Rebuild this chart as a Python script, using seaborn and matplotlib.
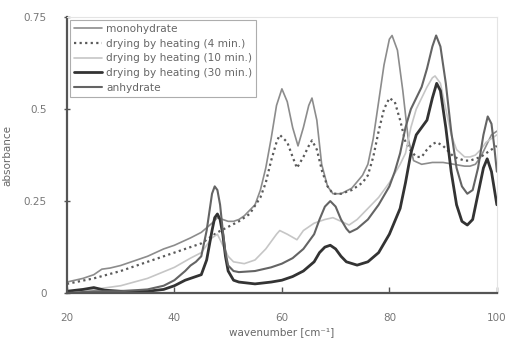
import matplotlib
matplotlib.use("Agg")
import matplotlib.pyplot as plt
import seaborn as sns
import pandas as pd

# ---- data ----
mono_x = [20, 23, 25, 26.5, 28, 30, 33, 35, 38, 40, 43, 45, 47, 48, 49, 50, 51, 52, 53, 54, 55, 56, 57, 58, 59, 60,
          61, 62, 63, 64, 65, 65.6, 66.5, 67.4, 68.5, 69.5, 71, 73, 75, 76, 77, 78, 79, 80, 80.5, 81.5, 82.5, 83.5,
          84.5, 86, 88, 90, 92, 94, 95, 96, 97, 98, 99, 100]
mono_y = [0.03, 0.04, 0.05, 0.065, 0.068, 0.075, 0.09, 0.10, 0.12, 0.13, 0.15, 0.165, 0.19, 0.205, 0.20, 0.195, 0.195,
          0.20, 0.21, 0.225, 0.24, 0.28, 0.34, 0.42, 0.51, 0.555, 0.52, 0.45, 0.40, 0.45, 0.51, 0.53, 0.47, 0.35,
          0.29, 0.27, 0.27, 0.285, 0.32, 0.35, 0.42, 0.52, 0.62, 0.69, 0.70, 0.66, 0.55, 0.42, 0.36, 0.35, 0.355,
          0.355, 0.35, 0.345, 0.345, 0.35, 0.37, 0.40, 0.43, 0.44]

dry4_x = [20, 25, 30, 35, 40, 43, 45, 48, 50, 52, 54, 56, 57, 58, 59, 59.6, 61, 62, 62.8, 64, 65, 65.6, 66.5, 67.5,
          68.5, 69.5, 71, 73, 75, 76, 77, 78, 79, 80, 81, 82, 83, 83.8, 85, 86, 87, 88, 88.8, 90, 92, 94, 95, 97,
          98, 100]
dry4_y = [0.025, 0.04, 0.06, 0.085, 0.11, 0.125, 0.135, 0.165, 0.18, 0.195, 0.215, 0.26, 0.30, 0.36, 0.41, 0.43,
          0.41, 0.37, 0.34, 0.37, 0.40, 0.415, 0.39, 0.33, 0.29, 0.27, 0.27, 0.28, 0.30, 0.32, 0.37, 0.44, 0.50,
          0.53, 0.52, 0.47, 0.41, 0.39, 0.37, 0.37, 0.39, 0.405, 0.41, 0.40, 0.37, 0.36, 0.36, 0.37, 0.38, 0.40]

dry10_x = [20, 25, 30, 35, 40, 43, 45, 46, 47, 48, 49, 50, 51, 53, 55, 57, 59, 59.6, 61, 62.8, 64, 66, 68, 69.5,
           71, 72.5, 74, 76, 78, 80, 82, 83, 84, 85, 86, 87, 88, 88.5, 89.5, 90.5, 91.5, 92.5, 94, 95, 96, 97, 98,
           99, 100]
dry10_y = [0.005, 0.01, 0.02, 0.04, 0.07, 0.095, 0.11, 0.13, 0.15, 0.16, 0.13, 0.10, 0.085, 0.08, 0.09, 0.12, 0.16,
           0.17, 0.16, 0.145, 0.17, 0.19, 0.20, 0.205, 0.195, 0.185, 0.20, 0.23, 0.26, 0.30, 0.35, 0.38, 0.45,
           0.50, 0.53, 0.56, 0.585, 0.59, 0.57, 0.50, 0.43, 0.39, 0.37, 0.37, 0.375, 0.39, 0.41, 0.42, 0.43]

dry30_x = [20, 23, 25, 27, 30, 35, 38, 40, 42, 43, 44, 45, 46, 47, 47.5, 48, 48.5, 49, 49.5, 50, 51, 52, 55, 58,
           60, 62, 64, 66, 67, 68, 69, 70, 71, 72, 74, 76, 78, 80, 82, 83, 84, 85, 86, 87, 88, 88.8, 89.5, 90.5,
           91.5, 92.5, 93.5, 94.5, 95.5, 96.5, 97.5, 98.2, 99, 100]
dry30_y = [0.005, 0.01, 0.015, 0.008, 0.005, 0.005, 0.01, 0.02, 0.035, 0.04, 0.045, 0.05, 0.09, 0.17, 0.205, 0.215,
           0.20, 0.16, 0.10, 0.06, 0.035, 0.03, 0.025, 0.03, 0.035, 0.045, 0.06, 0.085, 0.11, 0.125, 0.13, 0.12,
           0.10, 0.085, 0.076, 0.085, 0.11, 0.16, 0.23, 0.30, 0.38, 0.43, 0.45, 0.47, 0.53, 0.57, 0.55, 0.45, 0.33,
           0.24, 0.195, 0.185, 0.20, 0.27, 0.34, 0.365, 0.33, 0.24]

anhy_x = [20, 25, 30, 35, 38, 40, 42, 43, 44, 45, 46, 46.5, 47, 47.5, 48, 48.5, 49, 49.5, 50, 51, 52, 55, 58, 60,
          62, 64, 66, 67, 68, 69, 70, 71, 72, 72.6, 74, 76, 78, 80, 81, 82, 83, 84, 85, 86, 87, 88, 88.7, 89.5,
          90.5, 91.5, 92.5, 93.5, 94.5, 95.5, 96.5, 97.5, 98.3, 99, 99.5, 100]
anhy_y = [0.0, 0.005, 0.005, 0.01, 0.02, 0.035, 0.06, 0.075, 0.085, 0.10, 0.17, 0.22, 0.27, 0.29, 0.28, 0.24, 0.17,
          0.11, 0.075, 0.06, 0.057, 0.06, 0.07, 0.08, 0.095, 0.12, 0.16, 0.20, 0.235, 0.25, 0.235, 0.20, 0.175,
          0.165, 0.175, 0.20, 0.24, 0.29, 0.33, 0.38, 0.45, 0.50, 0.53, 0.56, 0.61, 0.67, 0.70, 0.67, 0.57, 0.44,
          0.34, 0.29, 0.27, 0.28, 0.34, 0.43, 0.48, 0.46, 0.40, 0.33]

labels = ["monohydrate", "drying by heating (4 min.)", "drying by heating (10 min.)",
          "drying by heating (30 min.)", "anhydrate"]
x_ticks = [20, 40, 60, 80, 100]
y_ticks = [0, 0.25, 0.5, 0.75]
y_ticklabels = ["0", "0.25", "0.5", "0.75"]

series = [(mono_x, mono_y), (dry4_x, dry4_y), (dry10_x, dry10_y), (dry30_x, dry30_y), (anhy_x, anhy_y)]
styles = [
    dict(color="#8c8c8c", lw=1.2, ls="-"),
    dict(color="#5a5a5a", lw=1.6, ls=(0, (1, 1.5))),
    dict(color="#c6c6c6", lw=1.2, ls="-"),
    dict(color="#333333", lw=2.0, ls="-"),
    dict(color="#646464", lw=1.5, ls="-"),
]

sns.set_theme(style="white")
plt.rcParams["font.family"] = ["DejaVu Sans"]

fig = plt.figure(figsize=(5.07, 3.42), dpi=100)
ax = fig.add_axes([0.132, 0.143, 0.848, 0.807])

for (xs, ys), lab, st in zip(series, labels, styles):
    df = pd.DataFrame({"x": xs, "y": ys})
    sns.lineplot(data=df, x="x", y="y", ax=ax, color=st["color"], linewidth=st["lw"],
                 linestyle=st["ls"], label=lab, sort=False, estimator=None)

ax.set_xlim(20, 100)
ax.set_ylim(0, 0.75)
ax.set_xticks(x_ticks)
ax.set_xticklabels([str(v) for v in x_ticks])
ax.set_yticks(y_ticks)
ax.set_yticklabels(y_ticklabels)
ax.tick_params(axis="x", direction="in", length=4, width=1, color="#555555", pad=14,
               labelsize=7.5, labelcolor="#777777", bottom=True)
ax.tick_params(axis="y", direction="inout", length=5, width=1, color="#555555", pad=12,
               labelsize=7.5, labelcolor="#777777", left=True)

for side in ["left", "bottom"]:
    ax.spines[side].set_color("#555555")
    ax.spines[side].set_linewidth(1.6)
for side in ["top", "right"]:
    ax.spines[side].set_color("#e4e4e4")
    ax.spines[side].set_linewidth(0.8)

ax.set_xlabel("wavenumber [cm⁻¹]", fontsize=7.5, color="#666666", labelpad=3)
ax.set_ylabel("absorbance", fontsize=7.5, color="#666666", labelpad=8)

leg = ax.legend(loc="upper left", bbox_to_anchor=(0.005, 0.995), fontsize=7.6, frameon=True,
                fancybox=False, edgecolor="#999999", handlelength=2.6, handletextpad=0.4,
                labelspacing=0.45, borderpad=0.4, borderaxespad=0.1)
leg.get_frame().set_linewidth(0.8)
for t in leg.get_texts():
    t.set_color("#666666")

fig.savefig("out.png", dpi=100, facecolor="white")
